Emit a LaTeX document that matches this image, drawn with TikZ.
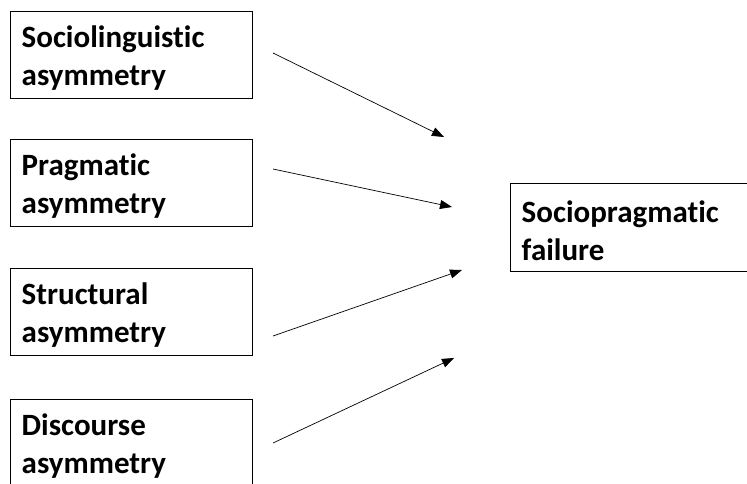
\documentclass[tikz,border=0pt]{standalone}
\usepackage{fontspec}
\setmainfont{Carlito}[Ligatures=NoCommon]
\usetikzlibrary{arrows.meta}
\tikzset{
  factor/.style={draw, line width=1.4pt, anchor=north west, minimum width=241pt, minimum height=87pt,
    text width=220pt, inner xsep=11pt, align=left, font=\fontsize{31}{38}\selectfont\bfseries,
    execute at end node={\par\vspace{-6pt}}},
  link/.style={-{Triangle[length=12pt,width=9pt]}, line width=0.7pt}
}
\begin{document}
\begin{tikzpicture}[x=1pt,y=-1pt]
  \clip (0,0) rectangle (747,484);
  \node[factor] (socio)  at (10,11)  {Sociolinguistic\\asymmetry};
  \node[factor] (prag)   at (10,139) {Pragmatic\\asymmetry};
  \node[factor] (struct) at (10,268) {Structural\\asymmetry};
  \node[factor] (disc)   at (10,399) {Discourse\\asymmetry};
  \node[factor, minimum width=240pt, minimum height=88pt] (fail) at (510,183) {Sociopragmatic\\failure};
  % arrow ends, not touching the boxes
  \coordinate (s1) at (273,53);  \coordinate (e1) at (444,137);
  \coordinate (s2) at (273,169); \coordinate (e2) at (452,207);
  \coordinate (s3) at (273,336); \coordinate (e3) at (462,270);
  \coordinate (s4) at (273,443); \coordinate (e4) at (454,358);
  \draw[link] (s1) -- (e1);
  \draw[link] (s2) -- (e2);
  \draw[link] (s3) -- (e3);
  \draw[link] (s4) -- (e4);
\end{tikzpicture}
\end{document}
